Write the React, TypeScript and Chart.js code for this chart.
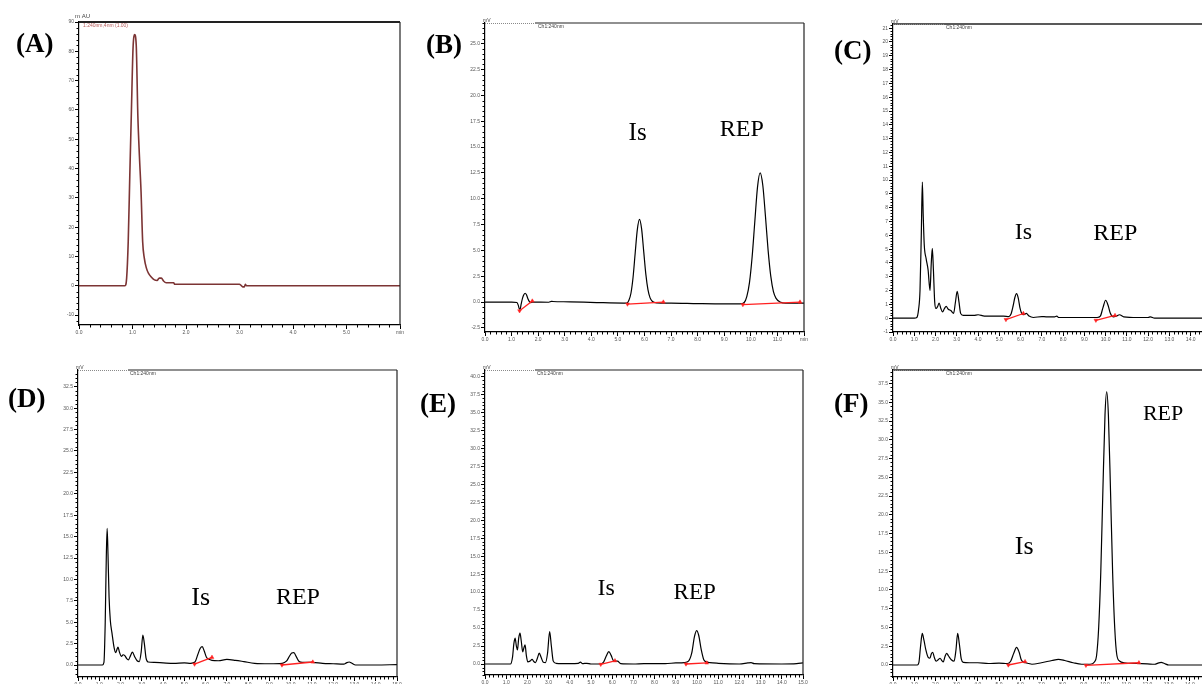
import React, { useEffect, useRef } from "react";
import { Chart, registerables } from "chart.js";

Chart.register(...registerables);

// ---------------- data (time in min, signal in mAU / mV) ----------------
const timeA = [0, 0.5, 0.86, 0.89, 0.92, 0.95, 0.98, 1.01, 1.04, 1.07, 1.1, 1.13, 1.16, 1.19, 1.22, 1.26, 1.3, 1.35, 1.41, 1.46, 1.5, 1.54, 1.58, 1.63, 1.7, 1.77, 1.79, 1.85, 2.5, 3.0, 3.03, 3.06, 3.09, 3.11, 3.13, 3.16, 4.0, 5.0, 6.0];
const signalA = [0, 0, 0, 2.5, 15, 38, 60, 81, 85.7, 82, 58, 44, 32, 15, 9.5, 6, 4.2, 3.0, 2.0, 1.8, 2.6, 2.6, 1.6, 1.0, 1.0, 1.0, 0.5, 0.5, 0.5, 0.5, 0.1, -0.4, -0.4, 0.5, 0.0, 0.0, 0.0, 0.0, 0.0];

const timeB = [0, 1.0, 1.2, 1.25, 1.29, 1.32, 1.36, 1.41, 1.46, 1.51, 1.56, 1.61, 1.67, 1.73, 1.8, 2.4, 2.5, 2.55, 3.2, 4.2, 5.2, 5.33, 5.41, 5.49, 5.57, 5.65, 5.73, 5.81, 5.89, 5.97, 6.05, 6.13, 6.21, 6.3, 6.45, 7.0, 8.0, 9.0, 9.6, 9.75, 9.85, 9.95, 10.05, 10.15, 10.25, 10.35, 10.45, 10.55, 10.65, 10.75, 10.85, 10.95, 11.1, 11.3, 11.6, 12.0];
const signalB = [0, 0, -0.05, -0.3, -0.65, -0.7, -0.2, 0.35, 0.7, 0.85, 0.7, 0.35, 0.05, -0.05, 0.0, -0.02, 0.06, 0.05, 0.02, -0.05, -0.1, -0.1, 0.15, 0.85, 2.4, 4.75, 7.0, 8.0, 7.1, 4.9, 2.7, 1.2, 0.4, 0.05, -0.08, -0.1, -0.15, -0.18, -0.18, -0.05, 0.55, 1.9, 4.4, 7.8, 11.1, 12.5, 11.3, 8.3, 5.0, 2.5, 1.0, 0.35, 0.0, -0.12, -0.12, -0.1];
const intStartB = [[1.3, -0.85], [5.36, -0.2], [9.7, -0.25]];
const intEndB = [[1.78, 0.1], [6.71, 0.0], [11.85, 0.0]];

const timeC = [0, 1.0, 1.12, 1.2, 1.27, 1.33, 1.38, 1.42, 1.47, 1.56, 1.65, 1.74, 1.8, 1.85, 1.9, 1.96, 2.02, 2.1, 2.17, 2.25, 2.33, 2.42, 2.5, 2.6, 2.72, 2.85, 2.93, 3.02, 3.1, 3.18, 3.3, 3.8, 4.0, 4.3, 4.8, 5.2, 5.45, 5.55, 5.65, 5.73, 5.81, 5.89, 5.97, 6.05, 6.15, 6.27, 6.4, 6.6, 7.0, 7.2, 7.6, 7.7, 7.8, 9.0, 9.6, 9.75, 9.87, 10.0, 10.12, 10.22, 10.35, 10.5, 10.65, 10.85, 11.5, 12.0, 12.1, 12.3, 15.0];
const signalC = [0, 0, 0.05, 0.6, 2.0, 6.0, 9.85, 7.5, 5.3, 4.3, 3.5, 2.0, 4.0, 5.05, 3.5, 1.2, 0.7, 0.85, 1.1, 0.7, 0.45, 0.7, 0.85, 0.65, 0.55, 0.35, 1.1, 1.95, 1.2, 0.35, 0.2, 0.2, 0.25, 0.15, 0.15, 0.15, 0.12, 0.3, 0.9, 1.5, 1.78, 1.45, 0.75, 0.35, 0.25, 0.35, 0.15, 0.05, 0.12, 0.1, 0.1, 0.15, 0.05, 0.05, 0.05, 0.15, 0.75, 1.3, 0.9, 0.35, 0.1, 0.15, 0.25, 0.1, 0.05, 0.05, 0.1, 0.0, 0.0];
const intStartC = [[5.31, -0.1], [9.54, -0.15]];
const intEndC = [[6.13, 0.34], [10.44, 0.2]];

const timeD = [0, 1.15, 1.22, 1.28, 1.33, 1.37, 1.41, 1.46, 1.52, 1.6, 1.7, 1.77, 1.83, 1.88, 1.95, 2.04, 2.12, 2.2, 2.29, 2.37, 2.47, 2.56, 2.66, 2.78, 2.88, 2.97, 3.05, 3.12, 3.2, 3.3, 3.6, 4.0, 4.5, 5.0, 5.3, 5.5, 5.63, 5.75, 5.84, 5.94, 6.04, 6.14, 6.3, 6.6, 7.0, 7.4, 7.8, 8.3, 9.0, 9.6, 9.8, 9.95, 10.05, 10.15, 10.27, 10.4, 10.55, 11.0, 11.5, 12.0, 12.5, 12.62, 12.75, 12.88, 13.05, 14.0, 15.0];
const signalD = [0, 0, 0.3, 5, 12.5, 15.95, 13, 8, 5.2, 3.7, 2.0, 1.45, 1.8, 2.1, 1.5, 1.0, 1.2, 1.1, 0.75, 0.6, 1.1, 1.5, 1.0, 0.5, 0.4, 1.5, 3.5, 2.5, 0.8, 0.35, 0.3, 0.25, 0.2, 0.25, 0.2, 0.35, 1.2, 1.95, 2.15, 1.6, 0.9, 0.7, 0.55, 0.5, 0.65, 0.55, 0.4, 0.2, 0.15, 0.2, 0.45, 1.05, 1.4, 1.45, 0.95, 0.4, 0.3, 0.3, 0.2, 0.15, 0.1, 0.25, 0.35, 0.2, 0.0, 0.0, 0.05];
const intStartD = [[5.48, 0.1], [9.59, 0.0]];
const intEndD = [[6.3, 0.9], [11.04, 0.35]];

const timeE = [0, 1.2, 1.3, 1.36, 1.42, 1.48, 1.53, 1.59, 1.65, 1.71, 1.78, 1.84, 1.89, 1.95, 2.02, 2.12, 2.22, 2.3, 2.38, 2.47, 2.56, 2.65, 2.75, 2.85, 2.95, 3.05, 3.13, 3.22, 3.35, 4.0, 4.4, 4.5, 4.6, 4.8, 5.0, 5.45, 5.6, 5.72, 5.84, 5.95, 6.05, 6.15, 6.25, 6.4, 7.0, 7.5, 8.5, 9.0, 9.4, 9.6, 9.75, 9.88, 9.98, 10.08, 10.2, 10.32, 10.45, 10.6, 11.0, 12.0, 12.4, 12.55, 12.7, 14.0, 14.7, 15.0];
const signalE = [0, 0, 1.0, 2.8, 3.6, 2.5, 1.95, 3.6, 4.3, 3.2, 1.7, 2.3, 2.65, 1.2, 0.3, 0.4, 0.65, 0.35, 0.2, 0.8, 1.5, 0.9, 0.25, 0.2, 1.5, 4.5, 2.5, 0.4, 0.1, 0.05, 0.1, 0.25, 0.05, 0.1, 0.0, 0.0, 0.3, 1.1, 1.72, 1.2, 0.5, 0.4, 0.4, 0.05, 0.0, 0.05, 0.05, 0.15, 0.2, 0.4, 1.5, 3.8, 4.65, 4.0, 2.0, 0.6, 0.3, 0.2, 0.1, 0.0, 0.15, 0.2, 0.05, 0.0, 0.05, 0.15];
const intStartE = [[5.46, -0.05], [9.48, 0.0]];
const intEndE = [[6.13, 0.45], [10.46, 0.15]];

const timeF = [0, 1.15, 1.22, 1.3, 1.38, 1.46, 1.55, 1.66, 1.74, 1.81, 1.87, 1.95, 2.03, 2.13, 2.22, 2.3, 2.37, 2.45, 2.53, 2.62, 2.75, 2.88, 2.97, 3.05, 3.13, 3.22, 3.32, 3.6, 4.0, 4.5, 5.0, 5.4, 5.55, 5.7, 5.83, 5.95, 6.05, 6.15, 6.25, 6.4, 6.55, 7.0, 7.5, 7.8, 8.1, 8.5, 8.9, 9.3, 9.5, 9.6, 9.7, 9.8, 9.9, 10.0, 10.08, 10.16, 10.26, 10.36, 10.46, 10.56, 10.7, 10.9, 11.5, 12.0, 12.35, 12.5, 12.65, 12.8, 13.0, 15.0];
const signalF = [0, 0, 0.3, 2.5, 4.2, 3.3, 2.0, 1.0, 0.9, 1.5, 1.7, 1.0, 0.5, 0.7, 0.9, 0.6, 0.4, 1.1, 1.55, 1.2, 0.7, 0.5, 2.0, 4.2, 2.8, 0.8, 0.35, 0.3, 0.3, 0.2, 0.25, 0.2, 0.5, 1.6, 2.35, 1.7, 0.7, 0.4, 0.3, 0.2, 0.1, 0.3, 0.6, 0.75, 0.6, 0.3, 0.1, 0.1, 0.4, 1.2, 4.9, 12.3, 23.2, 33.3, 36.4, 33.3, 23.2, 12.3, 4.9, 1.3, 0.5, 0.3, 0.2, 0.15, 0.1, 0.25, 0.35, 0.2, 0.0, 0.0];
const intStartF = [[5.44, 0.0], [9.1, -0.05]];
const intEndF = [[6.23, 0.45], [11.6, 0.3]];

// ---------------- panel layout & styling ----------------
type Note = { text: string; t: number; v: number; size: number };
type Axis = { min: number; max: number; step: number; minor: number; decimals: number; last?: string };
type PanelCfg = {
  letter: string;
  letterPos: [number, number];
  box: { l: number; t: number; r: number; b: number };
  x: Axis;
  y: Axis;
  time: number[];
  signal: number[];
  starts: number[][];
  ends: number[][];
  color: string;
  lineWidth: number;
  unit: string;
  unitPos: [number, number];
  channel: string;
  channelColor: string;
  channelOffset: number;
  topGap: number;
  topWidth: number;
  notes: Note[];
};

const TIME_AXIS: Axis = { min: 0, max: 15, step: 1, minor: 0.2, decimals: 1 };

const panels: PanelCfg[] = [
  {
    letter: "(A)", letterPos: [16, 30],
    box: { l: 79, t: 22, r: 400, b: 325 },
    x: { min: 0, max: 6, step: 1, minor: 0.2, decimals: 1, last: "min" },
    y: { min: -13.4, max: 90, step: 10, minor: 2, decimals: 0 },
    time: timeA, signal: signalA, starts: [], ends: [],
    color: "#7c3434", lineWidth: 1.6,
    unit: "m AU", unitPos: [-4, -4],
    channel: "1:240nm,4nm (1.00)", channelColor: "#b55a5a", channelOffset: 4,
    topGap: 0, topWidth: 2, notes: [],
  },
  {
    letter: "(B)", letterPos: [426, 31],
    box: { l: 485, t: 23, r: 804, b: 332 },
    x: { min: 0, max: 12, step: 1, minor: 0.2, decimals: 1, last: "min" },
    y: { min: -2.9, max: 27.0, step: 2.5, minor: 0.5, decimals: 1 },
    time: timeB, signal: signalB, starts: intStartB, ends: intEndB,
    color: "#000", lineWidth: 1.2,
    unit: "mV", unitPos: [-2, -1.5],
    channel: "Ch1:240nm", channelColor: "#444", channelOffset: 53,
    topGap: 50, topWidth: 1.2,
    notes: [{ text: "Is", t: 5.74, v: 15.7, size: 25 }, { text: "REP", t: 9.66, v: 16.1, size: 24 }],
  },
  {
    letter: "(C)", letterPos: [834, 37],
    box: { l: 893, t: 24, r: 1212, b: 332 },
    x: TIME_AXIS,
    y: { min: -1.0, max: 21.3, step: 1, minor: 0.2, decimals: 0 },
    time: timeC, signal: signalC, starts: intStartC, ends: intEndC,
    color: "#000", lineWidth: 1.2,
    unit: "mV", unitPos: [-2, -1.5],
    channel: "Ch1:240nm", channelColor: "#444", channelOffset: 53,
    topGap: 0, topWidth: 1.6,
    notes: [{ text: "Is", t: 6.13, v: 5.7, size: 24 }, { text: "REP", t: 10.45, v: 5.65, size: 24 }],
  },
  {
    letter: "(D)", letterPos: [8, 385],
    box: { l: 78, t: 370, r: 397, b: 677 },
    x: TIME_AXIS,
    y: { min: -1.4, max: 34.46, step: 2.5, minor: 0.5, decimals: 1 },
    time: timeD, signal: signalD, starts: intStartD, ends: intEndD,
    color: "#000", lineWidth: 1.2,
    unit: "mV", unitPos: [-2, -1.5],
    channel: "Ch1:240nm", channelColor: "#444", channelOffset: 52,
    topGap: 50, topWidth: 1.2,
    notes: [{ text: "Is", t: 5.77, v: 7.0, size: 26 }, { text: "REP", t: 10.34, v: 7.1, size: 24 }],
  },
  {
    letter: "(E)", letterPos: [420, 390],
    box: { l: 485, t: 370, r: 803, b: 675 },
    x: TIME_AXIS,
    y: { min: -1.53, max: 40.9, step: 2.5, minor: 0.5, decimals: 1 },
    time: timeE, signal: signalE, starts: intStartE, ends: intEndE,
    color: "#000", lineWidth: 1.2,
    unit: "mV", unitPos: [-2, -1.5],
    channel: "Ch1:240nm", channelColor: "#444", channelOffset: 52,
    topGap: 50, topWidth: 1.2,
    notes: [{ text: "Is", t: 5.72, v: 9.6, size: 24 }, { text: "REP", t: 9.89, v: 9.05, size: 23 }],
  },
  {
    letter: "(F)", letterPos: [834, 390],
    box: { l: 893, t: 370, r: 1211, b: 677 },
    x: TIME_AXIS,
    y: { min: -1.6, max: 39.3, step: 2.5, minor: 0.5, decimals: 1 },
    time: timeF, signal: signalF, starts: intStartF, ends: intEndF,
    color: "#000", lineWidth: 1.2,
    unit: "mV", unitPos: [-2, -1.5],
    channel: "Ch1:240nm", channelColor: "#444", channelOffset: 53,
    topGap: 0, topWidth: 1.6,
    notes: [{ text: "Is", t: 6.19, v: 14.8, size: 26 }, { text: "REP", t: 12.74, v: 32.6, size: 22 }],
  },
];

const PAD_L = 40, PAD_T = 16, PAD_R = 14, PAD_B = 22;
const TICK_FONT = { size: 5, family: '"Liberation Sans", Arial, sans-serif' };

function Panel({ cfg }: { cfg: PanelCfg }) {
  const ref = useRef<HTMLCanvasElement>(null);
  const w = cfg.box.r - cfg.box.l + PAD_L + PAD_R;
  const h = cfg.box.b - cfg.box.t + PAD_T + PAD_B;

  useEffect(() => {
    const canvas = ref.current;
    if (!canvas) return;
    const datasets: any[] = [
      {
        data: cfg.time.map((t, i) => ({ x: t, y: cfg.signal[i] })),
        borderColor: cfg.color,
        borderWidth: cfg.lineWidth,
        pointRadius: 0,
        cubicInterpolationMode: "monotone",
        fill: false,
        order: 2,
      },
    ];
    cfg.starts.forEach((s, i) => {
      const e = cfg.ends[i];
      datasets.push({
        data: [{ x: s[0], y: s[1] }, { x: e[0], y: e[1] }],
        borderColor: "#ff2020",
        borderWidth: 1.3,
        pointRadius: 2.2,
        pointStyle: "triangle",
        pointRotation: [180, 0],
        pointBackgroundColor: "#ff2020",
        pointBorderColor: "#ff2020",
        pointBorderWidth: 0.5,
        tension: 0,
        order: 1,
      });
    });

    const isMajor = (v: number, step: number) => Math.abs(v / step - Math.round(v / step)) < 1e-6;

    const decor = {
      id: "decor",
      afterDraw(chart: any) {
        const { ctx, chartArea: a } = chart;
        const xs = chart.scales.x;
        const ys = chart.scales.y;
        ctx.save();
        // minor ticks
        ctx.strokeStyle = "#000";
        ctx.lineWidth = 1;
        ctx.beginPath();
        for (let k = Math.ceil(cfg.x.min / cfg.x.minor - 1e-9); k * cfg.x.minor <= cfg.x.max + 1e-9; k++) {
          const v = k * cfg.x.minor;
          if (isMajor(v, cfg.x.step)) continue;
          const px = Math.round(xs.getPixelForValue(v)) + 0.5;
          ctx.moveTo(px, a.bottom);
          ctx.lineTo(px, a.bottom + 2.5);
        }
        for (let k = Math.ceil(cfg.y.min / cfg.y.minor - 1e-9); k * cfg.y.minor <= cfg.y.max + 1e-9; k++) {
          const v = k * cfg.y.minor;
          if (isMajor(v, cfg.y.step)) continue;
          const py = Math.round(ys.getPixelForValue(v)) + 0.5;
          ctx.moveTo(a.left - 2.5, py);
          ctx.lineTo(a.left, py);
        }
        ctx.stroke();
        // right frame
        ctx.strokeStyle = "#222";
        ctx.lineWidth = 1.2;
        ctx.beginPath();
        ctx.moveTo(a.right, a.top);
        ctx.lineTo(a.right, a.bottom);
        ctx.stroke();
        // top frame
        ctx.lineWidth = cfg.topWidth;
        ctx.beginPath();
        ctx.moveTo(a.left + cfg.topGap, a.top);
        ctx.lineTo(a.right, a.top);
        ctx.stroke();
        if (cfg.unit === "mV") {
          ctx.setLineDash([1, 1]);
          ctx.strokeStyle = "#8a8a8a";
          ctx.lineWidth = 1;
          ctx.beginPath();
          ctx.moveTo(a.left, a.top + 0.5);
          ctx.lineTo(a.left + 52, a.top + 0.5);
          ctx.stroke();
          ctx.setLineDash([]);
        }
        // unit and channel texts
        ctx.textAlign = "left";
        ctx.textBaseline = "alphabetic";
        ctx.fillStyle = "#444";
        ctx.font = `${cfg.unit === "mV" ? 5 : 6}px "Liberation Sans", Arial, sans-serif`;
        ctx.fillText(cfg.unit, a.left + cfg.unitPos[0], a.top + cfg.unitPos[1]);
        ctx.fillStyle = cfg.channelColor;
        ctx.font = '5px "Liberation Sans", Arial, sans-serif';
        ctx.fillText(cfg.channel, a.left + cfg.channelOffset, a.top + 5);
        // peak annotations
        ctx.fillStyle = "#000";
        ctx.textAlign = "center";
        cfg.notes.forEach((n) => {
          ctx.font = `${n.size}px "Liberation Serif", "Times New Roman", serif`;
          ctx.fillText(n.text, xs.getPixelForValue(n.t), ys.getPixelForValue(n.v));
        });
        ctx.restore();
      },
    };

    const chart = new Chart(canvas, {
      type: "line",
      data: { datasets },
      options: {
        animation: false,
        responsive: false,
        events: [],
        layout: { padding: { top: PAD_T, right: PAD_R, left: 0, bottom: 0 } },
        plugins: { legend: { display: false }, tooltip: { enabled: false } },
        scales: {
          x: {
            type: "linear",
            min: cfg.x.min,
            max: cfg.x.max,
            afterFit: (s: any) => {
              s.height = PAD_B;
            },
            ticks: {
              stepSize: cfg.x.step,
              autoSkip: false,
              includeBounds: false,
              maxRotation: 0,
              minRotation: 0,
              padding: 1,
              color: "#555",
              font: TICK_FONT,
              callback: (v: any) =>
                cfg.x.last && Math.abs(Number(v) - cfg.x.max) < 1e-6 ? cfg.x.last : Number(v).toFixed(cfg.x.decimals),
            },
            grid: { drawOnChartArea: false, drawTicks: true, tickLength: 4, color: "#000" },
            border: { display: true, color: "#000", width: 1.2 },
          },
          y: {
            type: "linear",
            min: cfg.y.min,
            max: cfg.y.max,
            afterFit: (s: any) => {
              s.width = PAD_L;
            },
            ticks: {
              stepSize: cfg.y.step,
              autoSkip: false,
              includeBounds: false,
              padding: 1,
              color: "#555",
              font: TICK_FONT,
              callback: (v: any) => Number(v).toFixed(cfg.y.decimals),
            },
            grid: { drawOnChartArea: false, drawTicks: true, tickLength: 4, color: "#000" },
            border: { display: true, color: "#000", width: 1.2 },
          },
        },
      } as any,
      plugins: [decor],
    });
    return () => chart.destroy();
  }, [cfg]);

  return (
    <canvas
      ref={ref}
      width={w}
      height={h}
      style={{ position: "absolute", left: cfg.box.l - PAD_L, top: cfg.box.t - PAD_T, width: w, height: h, display: "block" }}
    />
  );
}

export default function App() {
  return (
    <div
      style={{
        position: "fixed",
        left: 0,
        top: 0,
        width: 1202,
        height: 684,
        overflow: "hidden",
        background: "#fff",
      }}
    >
      {panels.map((p) => (
        <Panel key={p.letter} cfg={p} />
      ))}
      {panels.map((p) => (
        <div
          key={"lbl" + p.letter}
          style={{
            position: "absolute",
            left: p.letterPos[0],
            top: p.letterPos[1],
            fontFamily: '"Liberation Serif", "Times New Roman", serif',
            fontWeight: "bold",
            fontSize: 27,
            lineHeight: 1,
            color: "#000",
            whiteSpace: "nowrap",
          }}
        >
          {p.letter}
        </div>
      ))}
    </div>
  );
}
